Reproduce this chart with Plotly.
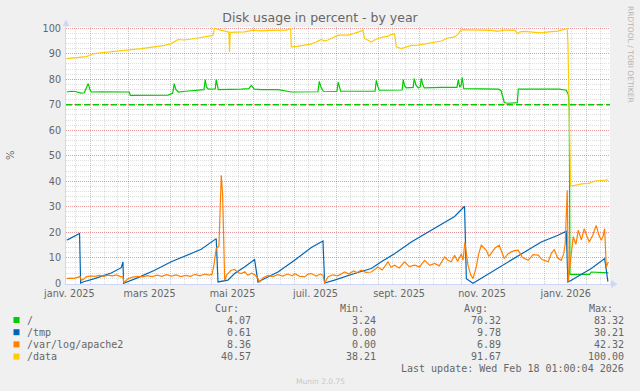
import pandas as pd
import plotly.graph_objects as go

# ---------------- data ----------------
ORIGIN = "2025-01-01"          # day 0 of the "day" arrays below
range_start = "2025-01-14 01:00:04"
range_end = "2026-02-18 01:00:04"

series_names = ["/", "/tmp", "/var/log/apache2", "/data"]
series_colors = ["#00CC00", "#0066B3", "#FF8000", "#FFCC00"]

root_days = [13.5, 17, 20, 24, 26.5, 28.5, 29.4, 30.5, 31.6, 39, 50, 59.6, 60.3, 75, 88,
             91.5, 92.6, 93.8, 95.6, 101, 107.4, 114.5, 115.4, 116.3, 117.6, 122.8, 123.5,
             124.3, 125, 141.9, 147.5, 149.3, 150.5, 151.5, 156.6, 169, 178.7, 198.3, 199.3,
             200.5, 202.2, 212.2, 213.2, 214.2, 215, 240.3, 241.2, 242.3, 243.4, 260.2, 261,
             262, 263.2, 268.3, 269.1, 270.3, 272.1, 273.5, 274.3, 275.3, 276.5, 289, 300.5,
             301.5, 302.5, 303.5, 304.4, 305.5, 331, 333, 335.3, 338, 344.9, 345.6, 375.7,
             380.9, 382.4, 383.1, 383.6, 398, 399.3, 411.8]
root_vals = [75.0, 75.3, 75.2, 74.6, 74.7, 76.8, 78.3, 76.2, 75.0, 75.1, 75.2, 75.0, 73.7, 73.6, 73.8,
             74.5, 78.3, 76.0, 75.0, 75.3, 75.7, 75.9, 79.9, 77.0, 76.1, 76.2, 79.9,
             77.0, 75.9, 76.1, 76.3, 77.6, 76.5, 76.1, 75.9, 75.9, 75.0, 75.1, 79.2,
             77.0, 75.3, 75.2, 78.9, 76.2, 75.3, 75.3, 79.6, 77.2, 75.7, 75.8, 79.9,
             77.5, 76.6, 76.8, 80.3, 77.8, 76.6, 77.0, 80.3, 78.0, 76.6, 76.8, 76.8,
             79.9, 76.9, 77.5, 80.7, 76.3, 76.1, 75.5, 70.9, 70.6, 70.8, 76.1, 76.1,
             75.7, 74.0, 68.6, 3.5, 3.5, 4.4, 4.07]

tmp_days = [13.5, 14.5, 23, 23.8, 25.5, 34, 46.3, 53.7, 54.9, 55.4, 66, 78.2, 90.4, 102.7,
            112.5, 123.5, 124.8, 132.1, 137, 144.3, 151.7, 154.2, 156.6, 168.9, 181.1, 193.4,
            202, 203.2, 210.5, 225.2, 237.5, 244.9, 254.6, 266.9, 279.2, 291.4, 298.8, 306.1,
            307.4, 312.3, 325.7, 338, 350.2, 362.5, 374.8, 380.9, 382.1, 384.6, 399.3, 409.1,
            411.5]
tmp_vals = [17.0, 17.1, 19.5, 0.1, 0.5, 1.8, 4.0, 6.1, 8.4, 0.0, 2.2, 5.1, 8.4, 11.0,
            13.3, 17.5, 0.5, 1.2, 3.8, 6.4, 9.3, 0.5, 1.2, 4.4, 9.0, 14.0,
            16.6, 0.1, 1.2, 3.8, 5.8, 8.4, 11.6, 16.2, 20.1, 24.0, 26.2, 30.2,
            1.8, 0.0, 4.4, 8.4, 12.3, 16.2, 18.8, 20.4, 0.5, 1.2, 5.8, 9.7,
            0.61]

apache_days = [13.5, 16, 19, 21.8, 23.3, 24.3, 26, 27.9, 31, 34, 37.5, 41, 44, 47, 50, 53.7,
               54.9, 55.6, 58.6, 62, 66, 69.5, 73, 76.5, 80, 83.5, 87, 90.5, 94, 97.5, 101,
               104.5, 108, 111.5, 115, 118.5, 120.5, 121.8, 123.5, 125.5, 126.5, 127.2, 128.2,
               128.9, 129.7, 131.5, 134.6, 137, 139.5, 141.9, 144.5, 146.8, 149.5, 152, 154.2,
               155.4, 157.5, 161.5, 165, 168.9, 172.5, 176, 179.5, 181.1, 184.5, 188.5, 191,
               193.4, 197, 200, 202, 203.2, 205.7, 209, 213, 217.9, 221, 224.5, 227, 230.1,
               233.5, 237.5, 240, 242.4, 245.5, 249.8, 252, 254.6, 258, 262, 265.5, 269.4, 273,
               276.7, 280.5, 284.1, 287.5, 291.4, 293.9, 296.3, 298.8, 301, 303.7, 305, 306.3,
               307.4, 308.6, 310.5, 312.3, 314.7, 316.5, 318.4, 320.5, 322.1, 324, 325.7, 328.5,
               331.6, 333.5, 335.3, 338, 340.4, 343, 345.6, 348.5, 352.9, 356.5, 360.3, 363,
               365.5, 367.6, 370, 372.1, 374.5, 377.2, 379, 380.1, 381.6, 382.4, 383.8, 386, 388,
               389.7, 392, 394.1, 396, 397.8, 400.5, 402.9, 404.8, 406.6, 408, 409.1, 410.3,
               411.8]
apache_vals = [1.8, 2.0, 1.9, 2.5, 2.6, 1.2, 1.6, 2.5, 2.9, 2.7, 3.1, 2.7, 3.2, 2.9, 3.3, 2.5,
               2.6, 0.2, 1.8, 2.4, 2.7, 2.5, 3.0, 2.6, 3.2, 2.7, 3.4, 2.8, 3.3, 2.6, 3.1,
               2.7, 3.5, 2.9, 3.6, 3.2, 3.6, 7.1, 13.6, 14.5, 30.0, 42.3, 35.0,
               20.1, 1.2, 3.5, 5.1, 5.4, 4.2, 3.8, 4.5, 3.1, 3.9, 3.3, 1.8,
               0.4, 2.0, 3.1, 2.6, 3.4, 2.8, 3.6, 2.9, 3.8, 2.8, 2.5, 3.6,
               3.8, 2.8, 3.6, 3.1, 0.1, 2.5, 3.3, 2.9, 4.4, 3.6, 4.8, 4.2, 5.1,
               4.3, 4.4, 5.6, 6.4, 5.2, 8.4, 6.3, 7.1, 6.0, 8.4, 6.5, 7.1, 6.4,
               9.0, 7.0, 7.8, 6.8, 10.3, 9.0, 8.4, 11.0, 8.5, 11.5, 9.0, 16.0,
               11.6, 7.1, 3.5, 1.8, 6.4, 11.5, 14.9, 13.5, 12.9, 10.5, 11.6, 13.8,
               14.9, 12.0, 9.7, 11.5, 12.3, 12.8, 13.0, 10.2, 9.0, 11.2, 11.0, 9.3,
               8.8, 8.4, 11.8, 13.2, 10.0, 9.0, 11.5, 15.6, 36.5, 0.6, 8.0, 18.2, 15.3,
               20.8, 17.0, 21.4, 18.5, 16.2, 19.0, 22.7, 19.0, 16.9, 18.5, 21.4, 6.4,
               8.36]

data_days = [13.5, 17, 20, 25, 28, 34, 40, 48.8, 53, 58.6, 63, 68.4, 74, 80.6, 86, 90.4, 95.4,
             100, 107.6, 112, 117.4, 121, 122.3, 124.5, 127.2, 132.1, 132.8, 133.3, 133.8, 138,
             144.3, 150, 156.6, 163, 170, 175, 178.2, 178.7, 183, 188.5, 193, 197, 200.7, 203,
             205.7, 209, 213, 217, 220.4, 225, 228.9, 231.4, 232.6, 235, 237.5, 240, 242.4, 246,
             249.8, 252, 254.6, 255.9, 259.6, 263, 266.9, 272, 279.2, 284, 289, 294, 298.8,
             301.5, 303.7, 310, 318, 325.7, 330, 335, 342.9, 345.5, 347, 350.2, 356, 362.5, 368,
             374.8, 381.6, 382.1, 383, 384.0, 386, 392, 397.5, 402, 406.6, 409.1, 411.8]
data_vals = [88.1, 88.3, 88.5, 88.6, 88.9, 90.1, 90.4, 90.7, 91.0, 91.4, 91.7, 92.0, 92.3, 92.9, 93.4, 94.0, 95.6,
             95.4, 96.0, 96.4, 96.9, 97.2, 100.0, 99.5, 99.2, 98.6, 98.5, 90.7, 98.4, 98.5,
             98.6, 99.2, 99.0, 99.2, 99.4, 99.3, 99.9, 92.7, 92.9, 93.3, 93.8, 94.6, 95.6, 95.0,
             95.4, 96.2, 97.3, 97.3, 97.3, 98.0, 98.6, 99.2, 96.0, 95.2, 94.6, 95.4, 96.0, 96.5,
             96.9, 97.5, 97.9, 92.7, 92.0, 92.6, 93.3, 93.4, 94.0, 94.6, 95.0, 96.2, 96.6,
             97.8, 99.5, 99.4, 99.3, 99.2, 98.8, 99.3, 99.2, 97.9, 98.6, 98.8, 98.5, 98.2, 98.6,
             98.9, 99.9, 94.0, 70.0, 38.4, 38.2, 39.0, 39.2, 40.1, 40.3, 40.5, 40.57]

warning_level = 70

legend_cur = [4.07, 0.61, 8.36, 40.57]
legend_min = [3.24, 0.00, 0.00, 38.21]
legend_avg = [70.32, 9.78, 6.89, 91.67]
legend_max = [83.32, 30.21, 42.32, 100.00]
last_update = "Last update: Wed Feb 18 01:00:04 2026"

label_months = ["2025-01-01", "2025-03-01", "2025-05-01", "2025-07-01",
                "2025-09-01", "2025-11-01", "2026-01-01"]
label_texts = ["janv. 2025", "mars 2025", "mai 2025", "juil. 2025",
               "sept. 2025", "nov. 2025", "janv. 2026"]
y_ticks = list(range(0, 101, 10))

title_text = "Disk usage in percent - by year"
watermark = "RRDTOOL / TOBI OETIKER"
footer = "Munin 2.0.75"

# ---------------- layout geometry ----------------
W, H = 640, 391
L, R, T, B = 66, 30, 27, 107
PW, PH = W - L - R, H - T - B
BOTTOM = H - B


def pxx(x):
    return (x - L) / PW


def pxy(y):
    return (BOTTOM - y) / PH


FONT = "DejaVu Sans"
MONO = "DejaVu Sans Mono"
TXT = "#666666"
AXIS = "#CFD6F8"
MGRID = "rgba(255,0,0,0.30)"
GRID = "rgba(120,120,120,0.25)"
DOTS = "1px,1px"


def to_dates(days):
    return pd.Timestamp(ORIGIN) + pd.to_timedelta(days, unit="D")


series_days = [root_days, tmp_days, apache_days, data_days]
series_vals = [root_vals, tmp_vals, apache_vals, data_vals]

fig = go.Figure()
for name, col, d, v in zip(series_names, series_colors, series_days, series_vals):
    fig.add_trace(go.Scatter(x=to_dates(d), y=v, mode="lines", name=name,
                             line=dict(color=col, width=1.2), showlegend=False,
                             hoverinfo="skip"))

fig.add_trace(go.Scatter(x=[range_start, range_end], y=[warning_level, warning_level],
                         xaxis="x2", mode="lines", showlegend=False, hoverinfo="skip",
                         line=dict(color=series_colors[0], width=1.5, dash="6px,3px")))

# month grid and label positions
months = pd.date_range("2025-01-01", "2026-03-01", freq="MS")
label_mid = []
for m in label_months:
    s = pd.Timestamp(m)
    e = s + pd.offsets.MonthBegin(1)
    label_mid.append(s + (e - s) / 2)
sub_marks = [m + pd.Timedelta(days=k) for m in months for k in (10, 20)]

fig.update_layout(
    width=W, height=H,
    margin=dict(l=L, r=R, t=T, b=B),
    paper_bgcolor="#F0F0F0", plot_bgcolor="#FFFFFF",
    title=dict(text=title_text, x=0.5, xref="container", xanchor="center",
               y=1 - 18 / H, yref="container", yanchor="middle",
               font=dict(family=FONT, size=12.5, color=TXT)),
    xaxis=dict(type="date", range=[range_start, range_end],
               tickmode="array", tickvals=label_mid, ticktext=label_texts,
               showgrid=False, ticks="", zeroline=False,
               showline=True, linecolor=AXIS, linewidth=1,
               tickfont=dict(family=FONT, size=9.7, color=TXT),
               minor=dict(tickmode="array", tickvals=list(months), showgrid=True,
                          gridcolor=MGRID, griddash=DOTS, gridwidth=1, ticks="")),
    xaxis2=dict(type="date", range=[range_start, range_end], overlaying="x",
                anchor="y", tickmode="array", tickvals=sub_marks,
                showticklabels=False, ticks="", showgrid=True, gridcolor=GRID,
                griddash=DOTS, gridwidth=1, zeroline=False, showline=False),
    yaxis=dict(range=[-0.3, 100.5], tickmode="array", tickvals=y_ticks,
               showgrid=True, gridcolor=MGRID, griddash=DOTS, gridwidth=1,
               zeroline=False, ticks="", showline=True, linecolor=AXIS, linewidth=1,
               tickfont=dict(family=FONT, size=9.7, color=TXT), ticklabelstandoff=2,
               minor=dict(dtick=2, tick0=0, showgrid=True, gridcolor=GRID,
                          griddash=DOTS, gridwidth=1)),
    showlegend=False,
)

ann = []
shapes = []
ann.append(dict(text="%", x=pxx(10), y=pxy(155), xref="paper", yref="paper",
                xanchor="center", yanchor="middle",
                showarrow=False, textangle=-90,
                font=dict(family=FONT, size=10, color=TXT)))
ann.append(dict(text=watermark, x=pxx(630), y=pxy(54), xref="paper", yref="paper",
                xanchor="center", yanchor="middle",
                showarrow=False, textangle=90,
                font=dict(family=FONT, size=7.5, color="#B4B4B4")))
ann.append(dict(text=footer, x=pxx(320), y=pxy(381), xref="paper", yref="paper",
                xanchor="center", yanchor="middle",
                showarrow=False, font=dict(family=FONT, size=7.5, color="#C8C8C8")))

# legend table
headers = ["Cur:", "Min:", "Avg:", "Max:"]
head_right = [240, 364.5, 488.5, 613.5]
val_right = [252, 377, 502, 625]
for h, xr in zip(headers, head_right):
    ann.append(dict(text=h, x=pxx(xr), y=pxy(308), xref="paper", yref="paper",
                    xanchor="right", yanchor="middle", showarrow=False, borderpad=0,
                    font=dict(family=MONO, size=10, color=TXT)))
columns = [legend_cur, legend_min, legend_avg, legend_max]
for i, (name, col) in enumerate(zip(series_names, series_colors)):
    yc = 320 + 12.2 * i
    shapes.append(dict(type="rect", xref="paper", yref="paper",
                       x0=pxx(13.5), x1=pxx(19.5), y0=pxy(yc - 3), y1=pxy(yc + 3),
                       fillcolor=col, line=dict(width=0)))
    ann.append(dict(text=name, x=pxx(26), y=pxy(yc), xref="paper", yref="paper",
                    xanchor="left", yanchor="middle", showarrow=False, borderpad=0,
                    font=dict(family=MONO, size=10, color=TXT)))
    for colvals, xr in zip(columns, val_right):
        ann.append(dict(text=f"{colvals[i]:.2f}", x=pxx(xr), y=pxy(yc),
                        xref="paper", yref="paper", xanchor="right", yanchor="middle",
                        showarrow=False, borderpad=0,
                        font=dict(family=MONO, size=10, color=TXT)))
ann.append(dict(text=last_update, x=pxx(625), y=pxy(368.5), xref="paper", yref="paper",
                xanchor="right", yanchor="middle", showarrow=False, borderpad=0,
                font=dict(family=MONO, size=10, color=TXT)))

# axis arrows
shapes.append(dict(type="line", xref="paper", yref="paper", x0=pxx(L), x1=pxx(L),
                   y0=pxy(T), y1=pxy(22), line=dict(color=AXIS, width=1)))
shapes.append(dict(type="path", xref="paper", yref="paper",
                   path=f"M {pxx(62.5)} {pxy(26)} L {pxx(69.5)} {pxy(26)} L {pxx(66)} {pxy(19.5)} Z",
                   fillcolor=AXIS, line=dict(width=0)))
shapes.append(dict(type="line", xref="paper", yref="paper", x0=pxx(W - R), x1=pxx(612),
                   y0=0, y1=0, line=dict(color=AXIS, width=1)))
shapes.append(dict(type="path", xref="paper", yref="paper",
                   path=f"M {pxx(611)} {pxy(280)} L {pxx(611)} {pxy(288)} L {pxx(617.5)} {pxy(284)} Z",
                   fillcolor=AXIS, line=dict(width=0)))

fig.update_layout(annotations=ann, shapes=shapes)
fig.write_html("out.html", config={"displayModeBar": False, "staticPlot": True},
               post_script="document.body.style.margin='0';document.body.style.overflow='hidden';")
